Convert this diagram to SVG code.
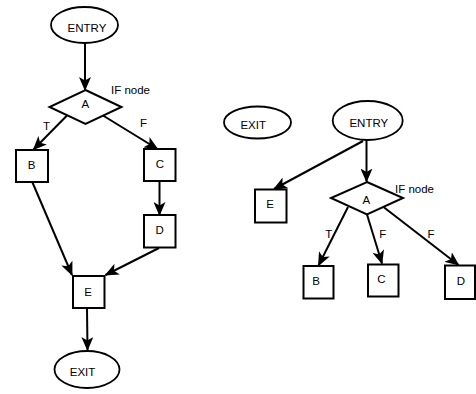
<svg xmlns="http://www.w3.org/2000/svg" width="476" height="394" viewBox="0 0 476 394">
<style>
.shape{fill:#fff;stroke:#000;stroke-width:2}
.ell{fill:#fff;stroke:#000;stroke-width:1.8}
.edge{fill:none;stroke:#000;stroke-width:2;marker-end:url(#arr)}
text{font-family:"Liberation Sans",Arial,Helvetica,sans-serif;font-size:11.5px;fill:#000;text-anchor:middle}
.lbl{text-anchor:start}
</style>
<defs>
<marker id="arr" viewBox="0 0 14 12" refX="13" refY="6" markerWidth="14" markerHeight="12" markerUnits="userSpaceOnUse" orient="auto">
<path d="M0,0 L14,6 L0,12 L3.5,6 Z" fill="#000"/>
</marker>
</defs>
<g id="connectors">
<line class="edge" x1="85" y1="43" x2="85" y2="90"/>
<line class="edge" x1="67" y1="115.5" x2="33.5" y2="149.5"/>
<line class="edge" x1="103" y1="115.5" x2="157.5" y2="149"/>
<line class="edge" x1="32.5" y1="182.5" x2="72" y2="275"/>
<line class="edge" x1="159.5" y1="181" x2="159.5" y2="215"/>
<line class="edge" x1="159" y1="248" x2="105.5" y2="275"/>
<line class="edge" x1="87" y1="308" x2="87.5" y2="350"/>
<line class="edge" x1="366.5" y1="140" x2="366.5" y2="181.5"/>
<line class="edge" x1="363" y1="141" x2="274" y2="189"/>
<line class="edge" x1="348" y1="207" x2="318.5" y2="265.5"/>
<line class="edge" x1="367" y1="214.5" x2="382" y2="263.5"/>
<line class="edge" x1="383.5" y1="207" x2="458.5" y2="265"/>
<text x="46.5" y="130">T</text>
<text x="143.5" y="127">F</text>
<text x="328.8" y="238">T</text>
<text x="382.8" y="238">F</text>
<text x="431" y="238">F</text>
</g>
<g id="L_ENTRY"><ellipse class="ell" cx="84.5" cy="25" rx="33.5" ry="18"/><text x="87" y="31.5">ENTRY</text></g>
<g id="L_A"><polygon class="shape" points="85.5,90 121.5,107 85.5,124 49.5,107"/><text x="85.3" y="108">A</text><text class="lbl" x="111" y="94">IF node</text></g>
<g id="L_B"><rect class="shape" x="16" y="150" width="32" height="32"/><text x="31.5" y="168.5">B</text></g>
<g id="L_C"><rect class="shape" x="144" y="149" width="31.5" height="32"/><text x="160" y="168">C</text></g>
<g id="L_D"><rect class="shape" x="144" y="215" width="31.5" height="32.5"/><text x="159.7" y="234">D</text></g>
<g id="L_E"><rect class="shape" x="73" y="276" width="31.5" height="32"/><text x="88" y="295.5">E</text></g>
<g id="L_EXIT"><ellipse class="ell" cx="87" cy="369.5" rx="32.5" ry="18.5"/><text x="82.5" y="376">EXIT</text></g>
<g id="R_EXIT"><ellipse class="ell" cx="257.5" cy="122.5" rx="33.5" ry="16"/><text x="253.2" y="129">EXIT</text></g>
<g id="R_ENTRY"><ellipse class="ell" cx="367.7" cy="120.5" rx="35" ry="19.5"/><text x="368.8" y="127">ENTRY</text></g>
<g id="R_A"><polygon class="shape" points="367,182 403,198 367,214.5 331,198"/><text x="366.3" y="204">A</text><text class="lbl" x="395" y="192.5">IF node</text></g>
<g id="R_E"><rect class="shape" x="255" y="189.5" width="31.5" height="33"/><text x="270" y="208">E</text></g>
<g id="R_B"><rect class="shape" x="303.5" y="266" width="30" height="32.5"/><text x="316" y="285">B</text></g>
<g id="R_C"><rect class="shape" x="368" y="264.5" width="30.5" height="32"/><text x="381.3" y="283.3">C</text></g>
<g id="R_D"><rect class="shape" x="445" y="265.5" width="30" height="33.5"/><text x="461" y="285">D</text></g>
</svg>
